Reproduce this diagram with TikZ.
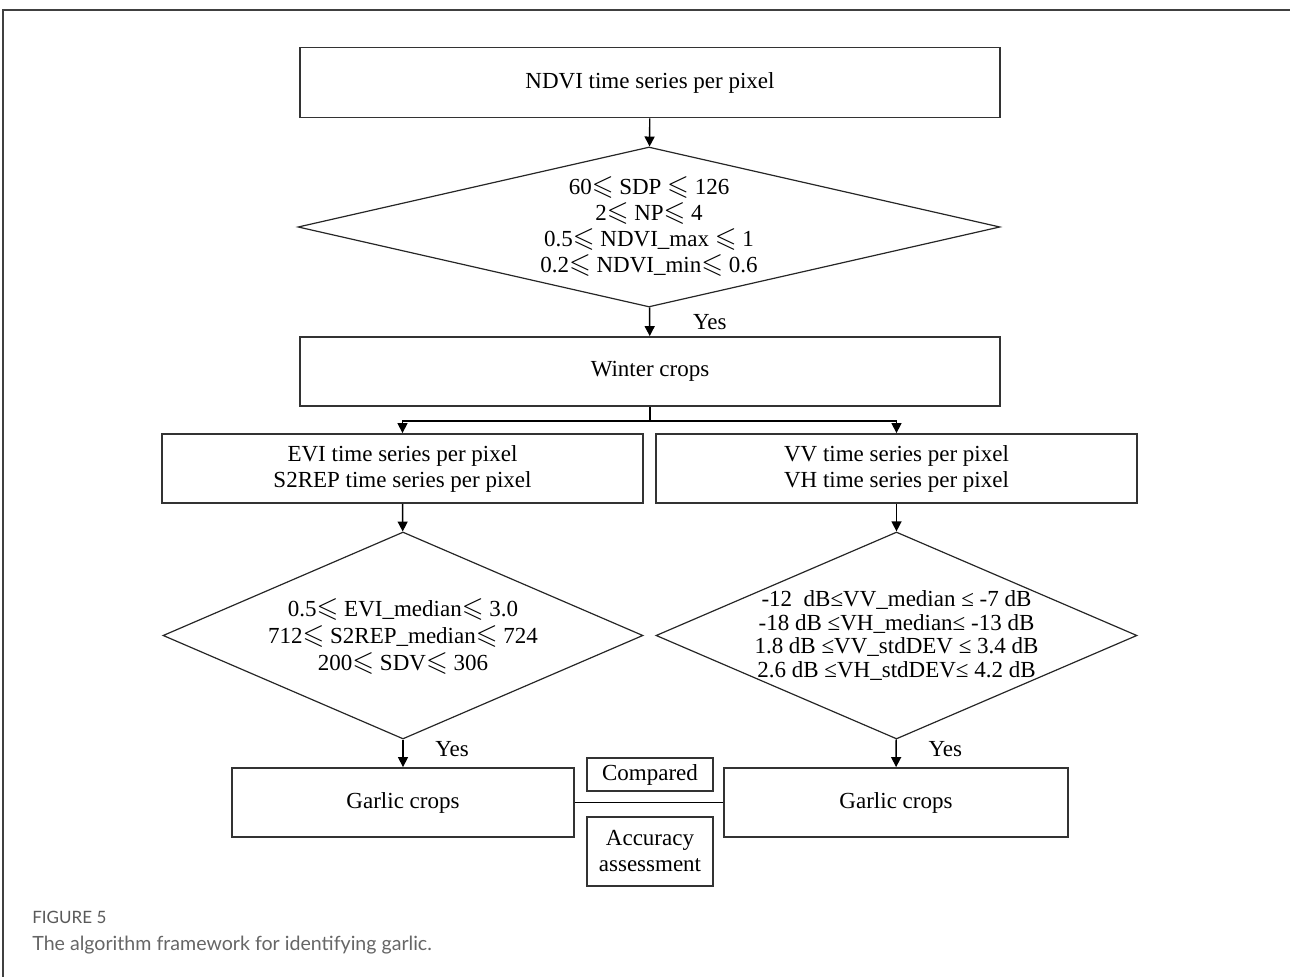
\documentclass[tikz,border=0pt]{standalone}
\usepackage{amssymb}
\usepackage{fontspec}
\setmainfont{Liberation Serif}
\newfontfamily\capfont{Lato}
\usetikzlibrary{shapes.geometric, arrows.meta, positioning}

\newcommand{\sle}{\smash{\fontsize{14}{14}\selectfont$\leqslant$}}

\begin{document}
\begin{tikzpicture}[
  x=0.5pt, y=-0.5pt,
  font=\fontsize{11.5}{13}\selectfont,
  box/.style={rectangle, draw=black!80, line width=0.9pt, inner sep=0pt},
  cond/.style={diamond, draw=black!85, line width=0.6pt, inner sep=0pt},
  capt/.style={anchor=west, text=black!60},
  >={Triangle[length=5pt, width=5pt]},
  line width=0.7pt]

  \useasboundingbox (0,0) rectangle (1290,977);
  \draw[black!75, line width=1pt] (1290,10) -- (3,10) -- (3,977);

  \node[box, minimum width=350pt, minimum height=35pt] (ndvi) at (650,82.5) {NDVI time series per pixel};
  \node[cond, minimum width=351pt, minimum height=80pt,
    label={[align=center]center:60\sle\ SDP \sle\ 126\\2\sle\ NP\sle\ 4\\0.5\sle\ NDVI\_max \sle\ 1\\0.2\sle\ NDVI\_min\sle\ 0.6}] (d1) at (649,227) {};
  \node[box, minimum width=350pt, minimum height=34.5pt] (winter) at (650,371.5) {Winter crops};

  \node[box, minimum width=240.5pt, minimum height=34.5pt, align=center] (evi) at (402.5,468.5) {EVI time series per pixel\\S2REP time series per pixel};
  \node[box, minimum width=240.5pt, minimum height=34.5pt, align=center] (vv) at (896.5,468.5) {VV time series per pixel\\VH time series per pixel};

  \node[cond, minimum width=240pt, minimum height=103.5pt,
    label={[align=center, font=\fontsize{11.5}{13.5}\selectfont]center:0.5\sle\ EVI\_median\sle\ 3.0\\712\sle\ S2REP\_median\sle\ 724\\200\sle\ SDV\sle\ 306}] (d2l) at (403,635.5) {};
  \node[cond, minimum width=240.5pt, minimum height=103.5pt,
    label={[align=center, font=\fontsize{11.5}{11.75}\selectfont]center:-12\ \ dB≤VV\_median ≤ -7 dB\\-18 dB ≤VH\_median≤ -13 dB\\1.8 dB ≤VV\_stdDEV ≤ 3.4 dB\\2.6 dB ≤VH\_stdDEV≤ 4.2 dB}] (d2r) at (896.5,635.5) {};

  \node[box, minimum width=171pt, minimum height=34.5pt] (garl) at (403,802.5) {Garlic crops};
  \node[box, minimum width=172pt, minimum height=34.5pt] (garr) at (896,802.5) {Garlic crops};
  \node[box, minimum width=63pt, minimum height=16.5pt] (cmp) at (650,774.5) {Compared};
  \node[box, minimum width=63pt, minimum height=34.5pt, align=center] (acc) at (650,851.5) {Accuracy\\assessment};

  % connectors
  \draw[->] (ndvi) -- (d1);
  \draw[->] (d1) -- node[right=18pt] {Yes} (winter);
  \coordinate (split) at (650,421);
  \draw (winter) -- (split);
  \draw[->] (split) -| (evi);
  \draw[->] (split) -| (vv);
  \draw[->] (evi) -- (d2l);
  \draw[->] (vv) -- (d2r);
  \draw[->] (d2l) -- node[right=12.5pt, yshift=2pt] {Yes} (garl);
  \draw[->] (d2r) -- node[right=12.5pt, yshift=2pt] {Yes} (garr);
  \draw (garl) -- (garr);

  % caption
  \node[capt, text=black!65, font=\capfont\fontsize{8.5}{10}\selectfont] (fig) at (25,917) {FIGURE 5};
  \node[capt, font=\capfont\fontsize{9.8}{11}\selectfont] (cap) at (25,945) {The algorithm framework for identifying garlic.};
\end{tikzpicture}
\end{document}
